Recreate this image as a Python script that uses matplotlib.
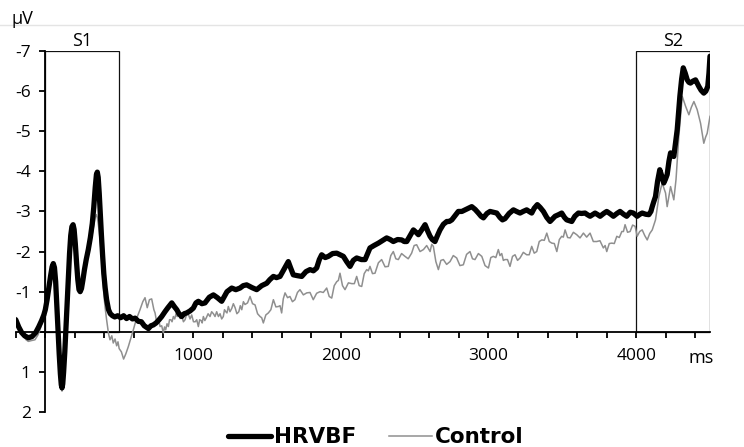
import matplotlib
matplotlib.use("Agg")
import matplotlib.pyplot as plt
from matplotlib.lines import Line2D
from matplotlib.patches import Rectangle

# ── Data ────────────────────────────────────────────────────
hrvbf_ms = [
    -200, -180, -160, -140, -115, -90, -65, -45, -25, -10, 0, 12, 24, 36, 46,
    54, 62, 70, 78, 86, 94, 102, 108, 113, 118, 124, 132, 140, 148, 156, 164,
    172, 180, 188, 195, 203, 212, 220, 228, 236, 245, 255, 265, 277, 291, 305,
    318, 328, 338, 346, 352, 358, 365, 372, 380, 388, 396, 405, 415, 428, 440,
    455, 470, 490, 510, 530, 550, 570, 590, 608, 630, 650, 670, 698, 715, 731,
    750, 770, 788, 810, 830, 856, 875, 890, 905, 923, 940, 957, 980, 1002,
    1020, 1036, 1060, 1081, 1110, 1138, 1165, 1194, 1230, 1262, 1290, 1318,
    1340, 1363, 1400, 1431, 1465, 1499, 1520, 1544, 1565, 1589, 1615, 1645,
    1660, 1679, 1705, 1736, 1765, 1792, 1815, 1837, 1855, 1871, 1895, 1916,
    1945, 1973, 1995, 2018, 2040, 2063, 2085, 2108, 2140, 2165, 2182, 2198,
    2225, 2255, 2285, 2311, 2335, 2356, 2385, 2413, 2430, 2447, 2470, 2492,
    2510, 2526, 2550, 2571, 2590, 2605, 2620, 2638, 2655, 2672, 2695, 2718,
    2735, 2752, 2775, 2796, 2820, 2842, 2865, 2887, 2910, 2932, 2950, 2966,
    2990, 3011, 3035, 3056, 3078, 3095, 3112, 3140, 3169, 3190, 3214, 3235,
    3259, 3275, 3293, 3310, 3331, 3350, 3372, 3395, 3417, 3435, 3451, 3475,
    3496, 3515, 3530, 3548, 3564, 3585, 3609, 3630, 3654, 3670, 3688, 3705,
    3722, 3740, 3756, 3780, 3801, 3825, 3846, 3870, 3891, 3915, 3936, 3960,
    3981, 4000, 4007, 4025, 4041, 4065, 4086, 4100, 4109, 4120, 4131, 4145,
    4160, 4172, 4187, 4198, 4210, 4222, 4233, 4245, 4255, 4266, 4278, 4287,
    4296, 4308, 4319, 4332, 4346, 4357, 4368, 4385, 4402, 4413, 4424, 4440,
    4458, 4472, 4485, 4493, 4500,
]
hrvbf_uv = [
    -0.3, -0.12, 0.02, 0.1, 0.15, 0.12, 0.02, -0.12, -0.28, -0.42, -0.55,
    -0.8, -1.1, -1.4, -1.62, -1.7, -1.6, -1.25, -0.65, -0.05, 0.55, 1.05,
    1.32, 1.4, 1.3, 1.0, 0.5, -0.1, -0.7, -1.35, -1.95, -2.4, -2.62, -2.67,
    -2.55, -2.2, -1.7, -1.3, -1.05, -1.0, -1.08, -1.3, -1.55, -1.8, -2.05,
    -2.35, -2.7, -3.1, -3.6, -3.92, -3.98, -3.85, -3.45, -2.95, -2.4, -1.9,
    -1.45, -1.1, -0.8, -0.55, -0.45, -0.4, -0.37, -0.4, -0.35, -0.4, -0.33,
    -0.38, -0.32, -0.34, -0.26, -0.25, -0.15, -0.08, -0.15, -0.17, -0.22,
    -0.3, -0.38, -0.5, -0.6, -0.72, -0.62, -0.55, -0.45, -0.38, -0.45, -0.47,
    -0.52, -0.59, -0.72, -0.76, -0.7, -0.72, -0.86, -0.92, -0.85, -0.76,
    -1.0, -1.09, -1.05, -1.09, -1.15, -1.17, -1.1, -1.05, -1.15, -1.21, -1.3,
    -1.38, -1.35, -1.38, -1.55, -1.75, -1.6, -1.42, -1.4, -1.38, -1.5, -1.55,
    -1.52, -1.59, -1.8, -1.92, -1.85, -1.88, -1.95, -1.96, -1.92, -1.88,
    -1.75, -1.63, -1.78, -1.84, -1.8, -1.8, -1.95, -2.09, -2.15, -2.21,
    -2.28, -2.34, -2.3, -2.25, -2.3, -2.29, -2.25, -2.25, -2.4, -2.54, -2.48,
    -2.42, -2.55, -2.67, -2.5, -2.38, -2.3, -2.25, -2.4, -2.54, -2.68, -2.75,
    -2.75, -2.79, -2.9, -3.0, -3.0, -3.04, -3.08, -3.12, -3.05, -2.96, -2.88,
    -2.84, -2.95, -3.0, -2.98, -2.96, -2.85, -2.79, -2.82, -2.95, -3.04,
    -3.0, -2.96, -3.0, -3.04, -3.0, -2.96, -3.08, -3.17, -3.1, -3.0, -2.85,
    -2.75, -2.82, -2.88, -2.92, -2.96, -2.85, -2.79, -2.77, -2.75, -2.88,
    -2.96, -2.95, -2.96, -2.92, -2.88, -2.92, -2.96, -2.92, -2.88, -2.95,
    -3.0, -2.94, -2.88, -2.95, -3.0, -2.93, -2.88, -2.98, -2.96, -2.9, -2.88,
    -2.93, -2.96, -2.93, -2.92, -3.0, -3.12, -3.25, -3.37, -3.75, -4.04,
    -3.9, -3.71, -3.8, -3.92, -4.25, -4.46, -4.42, -4.37, -4.7, -5.04, -5.45,
    -5.87, -6.3, -6.58, -6.45, -6.28, -6.22, -6.2, -6.25, -6.28, -6.2, -6.12,
    -6.02, -5.95, -6.0, -6.12, -6.45, -6.87,
]

control_ms = [
    -200, -185, -171, -150, -130, -115, -95, -70, -50, -36, -20, 0, 12, 24,
    36, 46, 54, 62, 70, 78, 86, 94, 102, 108, 113, 118, 124, 132, 140, 148,
    156, 164, 172, 180, 188, 195, 203, 212, 220, 228, 236, 245, 255, 265, 277,
    291, 305, 318, 328, 338, 346, 352, 358, 365, 372, 380, 388, 396, 405, 415,
    428, 438, 450, 460, 472, 483, 492, 500, 515, 530, 545, 562, 580, 596, 615,
    641, 660, 675, 690, 705, 720, 735, 743, 751, 760, 768, 777, 788, 799, 807,
    815, 824, 833, 841, 850, 858, 867, 876, 885, 893, 901, 913, 925, 935, 946,
    958, 970, 980, 991, 1003, 1015, 1025, 1036, 1045, 1055, 1062, 1070, 1080,
    1090, 1102, 1115, 1126, 1138, 1149, 1160, 1172, 1183, 1194, 1205, 1213,
    1222, 1230, 1239, 1250, 1262, 1273, 1285, 1297, 1310, 1320, 1330, 1341,
    1352, 1369, 1386, 1403, 1420, 1437, 1454, 1465, 1476, 1493, 1510, 1527,
    1544, 1561, 1578, 1589, 1600, 1611, 1623, 1640, 1656, 1673, 1690, 1707,
    1724, 1747, 1770, 1792, 1814, 1837, 1860, 1882, 1905, 1922, 1939, 1956,
    1973, 1984, 1995, 2012, 2029, 2052, 2075, 2092, 2108, 2125, 2142, 2159,
    2176, 2187, 2198, 2215, 2232, 2255, 2277, 2300, 2322, 2339, 2356, 2373,
    2390, 2412, 2435, 2457, 2480, 2497, 2514, 2537, 2560, 2582, 2605, 2616,
    2627, 2644, 2661, 2678, 2695, 2717, 2740, 2762, 2785, 2807, 2830, 2852,
    2875, 2892, 2909, 2932, 2955, 2977, 3000, 3016, 3033, 3050, 3067, 3078,
    3090, 3101, 3112, 3129, 3146, 3163, 3180, 3197, 3214, 3236, 3259, 3276,
    3293, 3310, 3327, 3344, 3361, 3378, 3395, 3412, 3429, 3446, 3463, 3480,
    3496, 3507, 3519, 3536, 3553, 3575, 3598, 3620, 3643, 3665, 3688, 3710,
    3733, 3755, 3778, 3790, 3801, 3818, 3835, 3852, 3869, 3886, 3903, 3914,
    3925, 3942, 3959, 3976, 3993, 4007, 4024, 4041, 4058, 4075, 4092, 4109,
    4131, 4154, 4176, 4199, 4210, 4233, 4255, 4270, 4289, 4312, 4335, 4357,
    4374, 4391, 4413, 4436, 4458, 4470, 4481, 4500,
]
control_uv = [
    -0.35, -0.2, -0.05, 0.1, 0.2, 0.24, 0.22, 0.2, 0.08, -0.05, -0.25, -0.45,
    -0.65, -0.95, -1.25, -1.45, -1.5, -1.42, -1.1, -0.55, 0.05, 0.65, 1.15,
    1.4, 1.48, 1.38, 1.05, 0.55, -0.05, -0.65, -1.2, -1.75, -2.15, -2.35,
    -2.4, -2.3, -2.0, -1.6, -1.3, -1.12, -1.1, -1.15, -1.35, -1.6, -1.8, -2.0,
    -2.25, -2.45, -2.65, -2.85, -2.92, -2.85, -2.7, -2.5, -2.25, -1.9, -1.45,
    -0.95, -0.6, -0.3, 0.05, 0.2, 0.1, 0.28, 0.18, 0.35, 0.25, 0.42, 0.5,
    0.68, 0.55, 0.37, 0.15, -0.05, -0.3, -0.55, -0.75, -0.85, -0.6, -0.8,
    -0.82, -0.55, -0.47, -0.3, -0.3, -0.3, -0.13, -0.15, 0.03, -0.12, -0.05,
    -0.2, -0.13, -0.3, -0.3, -0.25, -0.38, -0.32, -0.45, -0.38, -0.47, -0.33,
    -0.38, -0.25, -0.3, -0.45, -0.42, -0.32, -0.42, -0.25, -0.25, -0.3,
    -0.13, -0.3, -0.28, -0.22, -0.38, -0.28, -0.35, -0.45, -0.38, -0.5,
    -0.45, -0.38, -0.5, -0.38, -0.45, -0.32, -0.38, -0.55, -0.5, -0.47,
    -0.63, -0.5, -0.58, -0.7, -0.6, -0.45, -0.5, -0.65, -0.55, -0.75, -0.68,
    -0.72, -0.88, -0.7, -0.67, -0.45, -0.38, -0.35, -0.22, -0.42, -0.47,
    -0.55, -0.8, -0.62, -0.63, -0.65, -0.47, -0.82, -0.97, -0.85, -0.88,
    -0.75, -0.8, -0.98, -1.05, -0.92, -0.97, -0.98, -0.8, -0.96, -1.0, -0.98,
    -1.09, -0.88, -0.84, -1.15, -1.25, -1.28, -1.46, -1.15, -1.05, -1.22,
    -1.2, -1.2, -1.38, -1.15, -1.13, -1.45, -1.55, -1.52, -1.63, -1.45,
    -1.46, -1.72, -1.8, -1.62, -1.63, -1.9, -2.0, -1.82, -1.8, -1.95, -1.88,
    -1.82, -1.96, -2.15, -2.17, -2.0, -2.05, -2.15, -2.0, -2.18, -2.13,
    -1.75, -1.55, -1.78, -1.8, -1.68, -1.75, -1.9, -1.84, -1.65, -1.67,
    -1.93, -2.0, -1.82, -1.8, -1.95, -1.88, -1.65, -1.59, -1.85, -1.88,
    -1.85, -2.05, -1.9, -1.95, -1.78, -1.8, -1.8, -1.63, -1.88, -1.92, -1.78,
    -1.84, -1.98, -1.92, -1.92, -2.13, -1.96, -2.0, -2.25, -2.29, -2.28,
    -2.46, -2.25, -2.21, -2.2, -2.0, -2.3, -2.38, -2.36, -2.54, -2.35, -2.34,
    -2.48, -2.42, -2.34, -2.46, -2.36, -2.46, -2.25, -2.25, -2.27, -2.09,
    -2.15, -2.0, -2.2, -2.21, -2.2, -2.38, -2.35, -2.5, -2.5, -2.67, -2.48,
    -2.5, -2.66, -2.63, -2.38, -2.5, -2.54, -2.4, -2.29, -2.45, -2.54, -2.79,
    -3.37, -3.71, -3.46, -3.12, -3.62, -3.29, -3.8, -4.87, -5.87, -5.62,
    -5.41, -5.6, -5.74, -5.54, -5.2, -4.7, -4.85, -4.95, -5.37,
]

y_ticks = [-7, -6, -5, -4, -3, -2, -1, 0, 1, 2]
y_labels = ["-7", "-6", "-5", "-4", "-3", "-2", "-1", "", "1", "2"]
x_ticks = list(range(-200, 4500, 200))
x_labels = [str(t) if t in (1000, 2000, 3000, 4000) else "" for t in x_ticks]
windows = [("S1", 0, 500), ("S2", 4000, 4500)]

# ── Figure ──────────────────────────────────────────────────
plt.rcParams["font.family"] = ["Open Sans", "DejaVu Sans"]
fig = plt.figure(figsize=(7.44, 4.47), dpi=100)
ax = fig.add_axes([0.0212, 0.0783, 0.9331, 0.8076])

ax.plot(control_ms, control_uv, color="#8f8f8f", linewidth=1.1, label="Control", zorder=3)
ax.plot(hrvbf_ms, hrvbf_uv, color="black", linewidth=3.8, label="HRVBF", zorder=4,
        solid_joinstyle="round", solid_capstyle="round")

# S1 / S2 windows
for name, start, end in windows:
    ax.add_patch(Rectangle((start, -7), end - start, 7, fill=False,
                           edgecolor="#111111", linewidth=0.9, zorder=2))
    ax.text((start + end) / 2, -7.02, name, ha="center", va="bottom", fontsize=13)

ax.set_xlim(-200, 4500)
ax.set_ylim(2, -7)

for side in ["top", "right"]:
    ax.spines[side].set_visible(False)
ax.spines["left"].set_position(("data", 0))
ax.spines["bottom"].set_position(("data", 0))
ax.spines["left"].set_linewidth(1.3)
ax.spines["bottom"].set_linewidth(1.3)

ax.set_yticks(y_ticks)
ax.set_yticklabels(y_labels)
ax.set_xticks(x_ticks)
ax.set_xticklabels(x_labels)
ax.tick_params(axis="y", direction="out", length=4.5, width=1.3, pad=6, labelsize=12.5)
ax.tick_params(axis="x", direction="out", length=4, width=1.3, pad=8, labelsize=12.5)

# unit of the time axis, level with the tick labels
ax.text(4440, 0.433, "ms", ha="center", va="top", fontsize=13)
fig.text(0.015, 0.9586, "μV", ha="left", va="center", fontsize=13)

# faint frame line at the top
fig.add_artist(Line2D([0, 1], [0.944, 0.944], color="#e4e4e4", linewidth=1.0))

fig.legend(handles=ax.get_lines()[::-1], loc="center",
           bbox_to_anchor=(0.505, 0.022), ncol=2, frameon=False,
           handlelength=2.0, handletextpad=0.15, columnspacing=1.5,
           prop={"family": "DejaVu Sans", "weight": "bold", "size": 15.5})

plt.savefig("out.png", dpi=100)
